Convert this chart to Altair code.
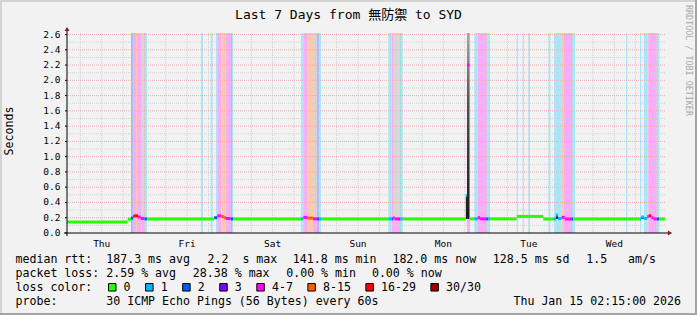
import altair as alt
import pandas as pd

MONO = "DejaVu Sans Mono"
W, H = 598, 200          # plot area
LEFT, TOP = 67, 33       # plot origin inside the 697x315 canvas

# ---------------- data ----------------
# time = hours since Thu 2026-01-08 00:00 ; window Thu 02:15 -> next Thu 02:15
t_first, t_last = 2.25, 170.25
day_names = ["Thu", "Fri", "Sat", "Sun", "Mon", "Tue", "Wed"]
day_noons = [12, 36, 60, 84, 108, 132, 156]
hours_major = [24, 48, 72, 96, 120, 144, 168]
hours_minor = [6, 12, 18, 30, 36, 42, 54, 60, 66, 78, 84, 90, 102, 108, 114,
               126, 132, 138, 150, 156, 162]
y_max = 2.62
y_labels = [0.0, 0.2, 0.4, 0.6, 0.8, 1.0, 1.2, 1.4, 1.6, 1.8, 2.0, 2.2, 2.4, 2.6]
y_minor = [0.1, 0.3, 0.5, 0.7, 0.9, 1.1, 1.3, 1.5, 1.7, 1.9, 2.1, 2.3, 2.5]

loss_classes = ["0", "1", "2", "3", "4-7", "8-15", "16-29", "30/30"]
loss_colors = ["#26ff00", "#00b8ff", "#0059ff", "#7e00ff", "#ff00ff", "#ff5e00", "#ff0000", "#a10000"]
band_colors = ["#ffffff", "#aae6fa", "#a8bcf8", "#c8a8fa", "#ffaaff", "#ffc8aa", "#ffaaaa", "#dcaaaa"]

# loss background bands
band_start = [20.23, 20.79, 21.63, 21.92, 23.18, 24.02,
              39.90, 42.62, 44.11, 44.48, 45.60, 46.92, 48.24, 48.60,
              67.99, 68.64, 69.67, 71.36, 72.49, 73.19,
              92.52, 93.47, 95.80,
              114.62, 116.68, 117.63, 120.16,
              128.59, 130.27, 131.85, 137.47, 139.07, 141.23, 141.68, 144.12,
              159.29, 163.22, 164.34, 165.27, 165.55, 167.91]
band_end = [20.79, 21.63, 21.92, 23.18, 24.02, 24.73,
            40.46, 43.18, 44.48, 45.60, 46.92, 48.24, 48.60, 48.97,
            68.64, 69.67, 71.36, 72.49, 73.19, 73.61,
            93.47, 95.80, 96.56,
            115.47, 117.63, 120.16, 121.09,
            128.95, 130.64, 132.32, 137.94, 141.23, 141.68, 144.12, 144.97,
            159.66, 163.58, 165.27, 165.55, 167.91, 168.70]
band_loss = ["2", "4-7", "8-15", "4-7", "4-7", "1",
             "1", "1", "1", "4-7", "8-15", "4-7", "2", "1",
             "1", "4-7", "8-15", "4-7", "2", "1",
             "1", "4-7", "1",
             "4-7", "1", "4-7", "1",
             "1", "1", "1", "1", "1", "8-15", "4-7", "1",
             "1", "1", "1", "8-15", "4-7", "1"]

# light grey smoke (rtt spread going off the top)
grey_start = [23.18, 71.36, 93.92]
grey_end = [24.02, 72.49, 95.80]
grey_lo = [0.22, 0.21, 0.21]

# dark smoke
smoke_start = [114.30, 139.60, 163.60]
smoke_end = [114.62, 140.20, 164.30]
smoke_lo = [0.185, 0.185, 0.185]
smoke_hi = [0.49, 0.235, 0.21]
tall_start = [114.62]
tall_end = [115.30]
tall_lo = [0.185]
tall_hi = [2.70]

# median rtt (seconds), piecewise, coloured by loss
seg_start = [2.25, 19.30, 20.23, 20.80, 21.10, 22.20, 22.90, 24.00, 24.70,
             43.60, 44.48, 45.60, 46.30, 46.92, 48.24, 48.97,
             67.99, 68.64, 69.67, 71.36, 72.49, 73.19, 73.61,
             92.52, 93.47, 93.92, 94.30, 95.60, 95.90, 96.56,
             114.30, 114.62, 115.47, 116.68, 117.63, 118.30, 120.00, 120.60, 121.09,
             128.59, 136.05, 139.07, 139.60, 140.20, 141.23, 142.10, 143.90, 144.50,
             163.22, 163.60, 164.30, 165.27, 165.70, 166.40, 167.00, 167.91, 168.70]
seg_end = [19.30, 20.23, 20.80, 21.10, 22.20, 22.90, 24.00, 24.70, 43.60,
           44.48, 45.60, 46.30, 46.92, 48.24, 48.97, 67.99,
           68.64, 69.67, 71.36, 72.49, 73.19, 73.61, 92.52,
           93.47, 93.92, 94.30, 95.60, 95.90, 96.56, 114.30,
           114.62, 115.30, 116.68, 117.63, 118.30, 120.00, 120.60, 121.09, 128.59,
           136.05, 139.07, 139.60, 140.20, 141.23, 142.10, 143.90, 144.50, 163.22,
           163.60, 164.30, 165.27, 165.70, 166.40, 167.00, 167.91, 168.70, 170.25]
seg_rtt = [0.145, 0.180, 0.195, 0.215, 0.225, 0.210, 0.190, 0.185, 0.185,
           0.200, 0.225, 0.215, 0.200, 0.190, 0.185, 0.185,
           0.185, 0.205, 0.195, 0.185, 0.185, 0.185, 0.185,
           0.185, 0.185, 0.200, 0.185, 0.185, 0.185, 0.185,
           0.490, 2.200, 0.185, 0.185, 0.200, 0.185, 0.185, 0.185, 0.185,
           0.217, 0.183, 0.183, 0.235, 0.190, 0.205, 0.183, 0.183, 0.183,
           0.183, 0.210, 0.190, 0.215, 0.225, 0.200, 0.185, 0.183, 0.183]
seg_loss = ["0", "0", "2", "4-7", "16-29", "4-7", "4-7", "2", "0",
            "2", "4-7", "8-15", "8-15", "4-7", "2", "0",
            "1", "4-7", "8-15", "4-7", "2", "1", "0",
            "1", "2", "4-7", "4-7", "3", "1", "0",
            "1", "4-7", "0", "1", "4-7", "4-7", "2", "1", "0",
            "0", "0", "1", "1", "1", "4-7", "4-7", "2", "0",
            "1", "1", "1", "4-7", "16-29", "4-7", "4-7", "2", "0"]

# legend texts
title_text = "Last 7 Days from 無防禦 to SYD"
rtt_values = ["187.3", "2.2", "141.8", "182.0", "128.5", "1.5"]
rtt_units = ["ms avg", " s max", "ms min", "ms now", "ms sd", "  am/s"]
loss_values = ["2.59", "28.38", "0.00", "0.00"]
loss_stats = ["avg", "max", "min", "now"]
probe_text = "30 ICMP Echo Pings (56 Bytes) every 60s"
stamp_text = "Thu Jan 15 02:15:00 2026"

# ---------------- chart ----------------
xs = alt.Scale(domain=[t_first, t_last], nice=False, zero=False)
ys = alt.Scale(domain=[0, y_max], nice=False, zero=False)
px = alt.Scale(domain=[0, W], nice=False, zero=False)   # identity pixel scale for the legend row
band_scale = alt.Scale(domain=loss_classes, range=band_colors)
loss_scale = alt.Scale(domain=loss_classes, range=loss_colors)
one = pd.DataFrame({"_": [0]})
CH = 6.98  # monospace advance of the 11.6px legend font


def nb(s):
    return s.replace(" ", "\u00a0")


def txt(x, y, s, size=11.6, align="left", color="black", angle=0, baseline="alphabetic",
        font=MONO):
    return alt.Chart(one).mark_text(x=x, y=y, text=nb(s), font=font, fontSize=size,
                                    align=align, baseline=baseline, color=color, angle=angle)


bands = alt.Chart(pd.DataFrame({"t0": band_start, "t1": band_end, "loss": band_loss})).mark_rect().encode(
    x=alt.X("t0:Q", scale=xs, axis=None), x2="t1:Q",
    y=alt.value(0), y2=alt.value(H),
    color=alt.Color("loss:N", scale=band_scale, legend=None))

grey = alt.Chart(pd.DataFrame({"t0": grey_start, "t1": grey_end, "lo": grey_lo})).mark_rect(color="#d8d8d8").encode(
    x=alt.X("t0:Q", scale=xs, axis=None), x2="t1:Q",
    y=alt.Y("lo:Q", scale=ys, axis=None), y2=alt.value(0))

h_minor = alt.Chart(pd.DataFrame({"v": y_minor})).mark_rule(color="#d2d2d2", strokeDash=[1, 1]).encode(
    y=alt.Y("v:Q", scale=ys, axis=None))
h_major = alt.Chart(pd.DataFrame({"v": y_labels[1:]})).mark_rule(color="#e6b0b0", strokeDash=[1, 1]).encode(
    y=alt.Y("v:Q", scale=ys, axis=None))
v_minor = alt.Chart(pd.DataFrame({"v": hours_minor})).mark_rule(color="#d2d2d2", strokeDash=[1, 1]).encode(
    x=alt.X("v:Q", scale=xs, axis=None))
v_major = alt.Chart(pd.DataFrame({"v": hours_major})).mark_rule(color="#e6b0b0", strokeDash=[1, 1]).encode(
    x=alt.X("v:Q", scale=xs, axis=None))

# axis labels drawn through the scales
y_lab = alt.Chart(pd.DataFrame({"v": y_labels})).mark_text(
    font=MONO, fontSize=9.5, align="right", baseline="middle", color="black").encode(
    y=alt.Y("v:Q", scale=ys, axis=None), x=alt.value(-6.5), text=alt.Text("v:Q", format=".1f"))
y_tick = alt.Chart(pd.DataFrame({"v": y_labels})).mark_rule(color="black").encode(
    y=alt.Y("v:Q", scale=ys, axis=None), x=alt.value(-2), x2=alt.value(0))
x_lab = alt.Chart(pd.DataFrame({"h": day_noons, "d": day_names})).mark_text(
    font=MONO, fontSize=9.5, align="center", baseline="alphabetic", color="black").encode(
    x=alt.X("h:Q", scale=xs, axis=None), y=alt.value(H + 13.5), text="d:N")

smoke = alt.Chart(pd.DataFrame({"t0": smoke_start, "t1": smoke_end, "lo": smoke_lo, "hi": smoke_hi})).mark_rect(
    color="#1e1e1e").encode(
    x=alt.X("t0:Q", scale=xs, axis=None), x2="t1:Q",
    y=alt.Y("lo:Q", scale=ys, axis=None), y2="hi:Q")

tall = alt.Chart(pd.DataFrame({"t0": tall_start, "t1": tall_end, "lo": tall_lo, "hi": tall_hi})).mark_rect(
    clip=True,
    color={"gradient": "linear", "x1": 0, "y1": 0, "x2": 0, "y2": 1,
           "stops": [{"offset": 0, "color": "#b0b0b0"}, {"offset": 0.4, "color": "#505050"},
                     {"offset": 1, "color": "#1a1a1a"}]}).encode(
    x=alt.X("t0:Q", scale=xs, axis=None), x2="t1:Q",
    y=alt.Y("lo:Q", scale=ys, axis=None), y2="hi:Q")

line = alt.Chart(pd.DataFrame({"t0": seg_start, "t1": seg_end, "rtt": seg_rtt, "loss": seg_loss})).mark_rule(
    strokeWidth=3, strokeCap="butt").encode(
    x=alt.X("t0:Q", scale=xs, axis=None), x2="t1:Q",
    y=alt.Y("rtt:Q", scale=ys, axis=None),
    stroke=alt.Stroke("loss:N", scale=loss_scale, legend=None))

# "loss color:" legend: swatch + label per class, laid out like rrdtool's legend
leg_df = pd.DataFrame({"loss": loss_classes, "k": list(range(len(loss_classes)))})
leg_base = alt.Chart(leg_df).transform_calculate(
    w=f"30.1 + {CH} * length(datum.loss)"
).transform_window(
    cum="sum(w)", sort=[alt.SortField("k")]
).transform_calculate(
    left="41 + datum.cum - datum.w",
    sx="datum.left + 4.25",
    lx="datum.left + 15.6",
)
leg_sw = leg_base.mark_square(size=56, stroke="black", strokeWidth=1, opacity=1, fillOpacity=1).encode(
    x=alt.X("sx:Q", scale=px, axis=None), y=alt.value(254.3),
    fill=alt.Fill("loss:N", scale=loss_scale, legend=None))
leg_lab = leg_base.mark_text(font=MONO, fontSize=11.6, align="left", baseline="alphabetic",
                             color="black").encode(
    x=alt.X("lx:Q", scale=px, axis=None), y=alt.value(258.3), text="loss:N")

# axes lines + arrows
ax_y = alt.Chart(one).mark_rule(color="black").encode(x=alt.value(0), y=alt.value(-4), y2=alt.value(H + 3))
ax_x = alt.Chart(one).mark_rule(color="black").encode(y=alt.value(H), x=alt.value(-3), x2=alt.value(W + 3))
arr_y = alt.Chart(one).mark_point(shape="triangle-up", filled=True, size=24, color="#8b1a1a", opacity=1).encode(
    x=alt.value(0), y=alt.value(-4))
arr_x = alt.Chart(one).mark_point(shape="triangle-right", filled=True, size=24, color="#8b1a1a", opacity=1).encode(
    x=alt.value(W + 5), y=alt.value(H))

# frame
fr_top = alt.Chart(one).mark_rule(color="#d4d4d4", strokeWidth=2).encode(
    y=alt.value(-TOP + 1), x=alt.value(-LEFT), x2=alt.value(697 - LEFT))
fr_left = alt.Chart(one).mark_rule(color="#d4d4d4", strokeWidth=2).encode(
    x=alt.value(-LEFT + 1), y=alt.value(-TOP), y2=alt.value(315 - TOP))
fr_bot = alt.Chart(one).mark_rule(color="#a4a4a4", strokeWidth=2).encode(
    y=alt.value(315 - TOP - 1), x=alt.value(-LEFT), x2=alt.value(697 - LEFT))
fr_right = alt.Chart(one).mark_rule(color="#a4a4a4", strokeWidth=2).encode(
    x=alt.value(697 - LEFT - 1), y=alt.value(-TOP), y2=alt.value(315 - TOP))

texts = [
    txt(281.5, -14, title_text, size=13, align="center",
        font="DejaVu Sans Mono, 'Noto Sans CJK JP'"),
    txt(-57, 98, "Seconds", align="center", angle=270, baseline="middle"),
    txt(621.5, -28, "RRDTOOL / TOBI OETIKER", size=8.4, color="#a8a8a8", angle=90, baseline="middle"),
    # row 1
    txt(-51.5, 230.3, "median rtt:  " + rtt_values[0] + " " + rtt_units[0]),
    txt(140.5, 230.3, rtt_values[1] + " " + rtt_units[1]),
    txt(225.8, 230.3, rtt_values[2] + " " + rtt_units[2]),
    txt(325.4, 230.3, rtt_values[3] + " " + rtt_units[3]),
    txt(425.8, 230.3, rtt_values[4] + " " + rtt_units[4]),
    txt(519.2, 230.3, rtt_values[5] + " " + rtt_units[5]),
    # row 2
    txt(-51.5, 244.3, "packet loss: " + loss_values[0] + " % " + loss_stats[0]),
    txt(125.8, 244.3, loss_values[1] + " % " + loss_stats[1]),
    txt(219.2, 244.3, loss_values[2] + " % " + loss_stats[2]),
    txt(304.9, 244.3, loss_values[3] + " % " + loss_stats[3]),
    # row 3
    txt(-51.5, 258.3, "loss color:"),
    # row 4
    txt(-51.5, 272.2, "probe:       " + probe_text),
    txt(614, 272.2, stamp_text, align="right"),
]

chart = alt.layer(
    bands, grey, h_minor, v_minor, h_major, v_major, tall, smoke, line,
    ax_y, ax_x, arr_y, arr_x, y_tick, y_lab, x_lab, leg_sw, leg_lab,
    fr_top, fr_left, fr_bot, fr_right, *texts
).resolve_scale(x="independent", color="independent", fill="independent", stroke="independent").properties(
    width=W, height=H,
    padding={"left": LEFT, "top": TOP, "right": 697 - LEFT - W, "bottom": 315 - TOP - H},
    autosize=alt.AutoSizeParams(type="none"),
    background="#f2f2f2",
).configure_view(stroke=None, fill="white")

chart.save("out.html", embed_options={"renderer": "svg", "actions": False})
